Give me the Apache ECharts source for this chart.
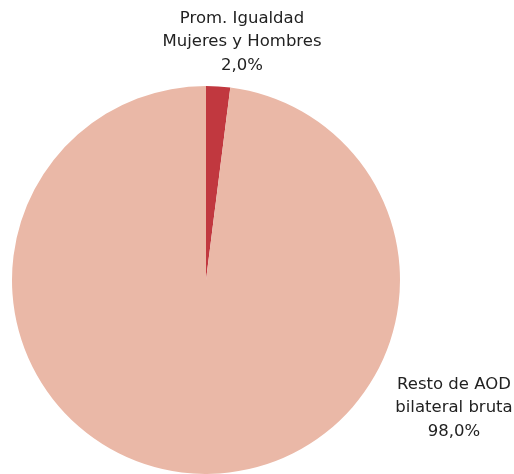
<!DOCTYPE html>
<html><head><meta charset="utf-8">
<script src="https://cdn.jsdelivr.net/npm/echarts@6/dist/echarts.min.js"></script>
<style>html,body{margin:0;padding:0;background:#fff}#c{width:514px;height:474px}</style>
</head><body><div id="c"></div>
<script>
var categories = ['Prom. Igualdad\nMujeres y Hombres', 'Resto de AOD\nbilateral bruta'];
var values = [2.0, 98.0];
var colors = ['#C1383F', '#EAB8A7'];
var labelPos = [[242, 42], [454, 408]];

var chart = echarts.init(document.getElementById('c'));
chart.setOption({
  animation: false,
  series: [{
    type: 'pie',
    center: [206, 280],
    radius: 194,
    startAngle: 90,
    clockwise: true,
    data: categories.map(function (c, i) {
      return { name: c, value: values[i], itemStyle: { color: colors[i] } };
    }),
    label: {
      show: true,
      position: 'outside',
      formatter: function (p) { return p.name + '\n' + p.value.toFixed(1).replace('.', ',') + '%'; },
      fontFamily: 'DejaVu Sans',
      fontSize: 16.5,
      lineHeight: 23.5,
      color: '#222',
      align: 'center'
    },
    labelLine: { show: false },
    labelLayout: function (p) {
      var pos = labelPos[p.dataIndex];
      return { x: pos[0], y: pos[1], align: 'center', verticalAlign: 'middle' };
    },
    emphasis: { disabled: true }
  }]
});
</script></body></html>
